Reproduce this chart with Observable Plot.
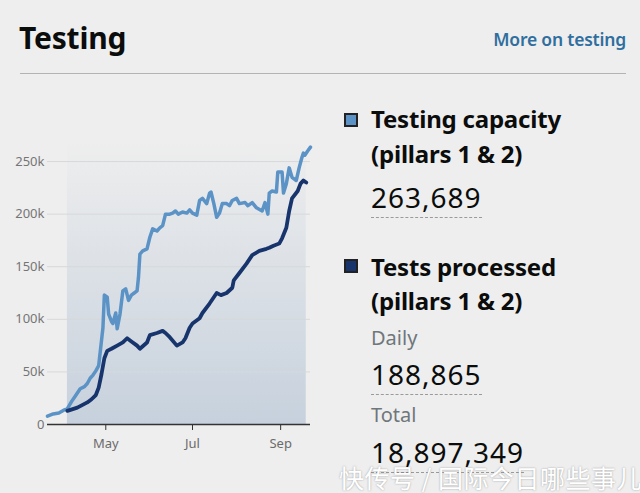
<!DOCTYPE html>
<html>
<head>
<meta charset="utf-8">
<script src="https://cdn.jsdelivr.net/npm/d3@7"></script>
<script src="https://cdn.jsdelivr.net/npm/@observablehq/plot@0.6"></script>
<style>
  html, body { margin: 0; padding: 0; }
  body { width: 640px; height: 493px; background: #eeeeee; position: relative; overflow: hidden; font-family: "Noto Sans", sans-serif; color: #0b0c0c; }
  .abs { position: absolute; white-space: nowrap; }
  #title { left: 19px; top: 17px; font-size: 30px; font-weight: 700; letter-spacing: -0.2px; }
  #more { right: 14px; top: 27px; font-size: 17.5px; font-weight: 600; color: #2f6e9e; letter-spacing: -0.2px; }
  #rule { left: 20px; top: 73px; width: 606px; height: 0; border-top: 1px solid #b3b3b3; }
  #chart { left: 0; top: 130px; }
  .swatch { width: 10px; height: 10px; border: 2px solid #222; }
  .head { font-size: 24px; font-weight: 700; letter-spacing: -0.2px; line-height: 1; }
  .num { font-size: 28px; font-weight: 400; line-height: 1; padding-bottom: 6px; border-bottom: 1.5px dashed #9a9a9a; letter-spacing: 1px; }
  .sub { font-size: 20px; color: #6f777b; line-height: 1; }
  #wm { left: 339px; top: 462px; line-height: 30px; font-family: "Noto Sans CJK SC", sans-serif; font-size: 25px; color: #ffffff; text-shadow: 0 0 2px rgba(0,0,0,0.35); letter-spacing: 0.5px; }
</style>
</head>
<body>
<div id="title" class="abs">Testing</div>
<div id="more" class="abs">More on testing</div>
<div id="rule" class="abs"></div>
<div id="chart" class="abs"></div>

<div class="abs swatch" id="sw1" style="left:344px;top:113px;"></div>
<div class="abs head" style="left:371px;top:107px;">Testing capacity</div>
<div class="abs head" style="left:371px;top:142px;">(pillars 1 &amp; 2)</div>
<div class="abs num" id="capNum" style="left:371px;top:183px;"></div>

<div class="abs swatch" id="sw2" style="left:344px;top:259px;"></div>
<div class="abs head" style="left:371px;top:255px;">Tests processed</div>
<div class="abs head" style="left:371px;top:289px;">(pillars 1 &amp; 2)</div>
<div class="abs sub" style="left:371px;top:328px;">Daily</div>
<div class="abs num" id="dailyNum" style="left:371px;top:360px;"></div>
<div class="abs sub" style="left:371px;top:405px;">Total</div>
<div class="abs num" id="totalNum" style="left:371px;top:438px;"></div>

<div id="wm" class="abs">快传号 / 国际今日哪些事儿</div>

<script>
// Testing capacity, pillars 1 & 2 (tests per day)
const capacityDates = [
  "2020-03-21","2020-03-25","2020-03-29","2020-04-02","2020-04-04","2020-04-07","2020-04-09",
  "2020-04-13","2020-04-16","2020-04-18","2020-04-20","2020-04-22","2020-04-24","2020-04-26",
  "2020-04-27","2020-04-28","2020-04-29","2020-04-30","2020-05-02","2020-05-03","2020-05-05",
  "2020-05-06","2020-05-08","2020-05-09","2020-05-11","2020-05-13","2020-05-15","2020-05-17",
  "2020-05-19","2020-05-21","2020-05-23","2020-05-24","2020-05-25","2020-05-27","2020-05-30",
  "2020-06-01","2020-06-03","2020-06-06","2020-06-08","2020-06-10","2020-06-12","2020-06-15",
  "2020-06-17","2020-06-19","2020-06-21","2020-06-24","2020-06-27","2020-06-29","2020-07-01",
  "2020-07-04","2020-07-06","2020-07-08","2020-07-11","2020-07-13","2020-07-14","2020-07-16",
  "2020-07-18","2020-07-20","2020-07-22","2020-07-25","2020-07-27","2020-07-29","2020-08-01",
  "2020-08-03","2020-08-07","2020-08-09","2020-08-12","2020-08-15","2020-08-19","2020-08-21",
  "2020-08-23","2020-08-24","2020-08-26","2020-08-29","2020-08-30","2020-09-02","2020-09-03",
  "2020-09-05","2020-09-07","2020-09-09","2020-09-12","2020-09-14","2020-09-16","2020-09-17",
  "2020-09-18","2020-09-20","2020-09-22"
];
const capacityValues = [
  8000,10000,11000,14000,15000,22000,26000,
  34000,36000,39000,44000,47000,51000,56000,
  68000,80000,92000,123000,121000,105000,98000,
  96000,106000,91000,105000,127000,129000,118000,
  123000,125000,127000,140000,162000,165000,167000,
  178000,186000,184000,187000,189000,200000,200000,
  201000,203000,200000,202000,201000,204000,201000,
  199000,213000,215000,210000,220000,221000,210000,
  197000,201000,210000,210000,208000,213000,215000,
  210000,211000,208000,211000,206000,203000,211000,
  200000,220000,222000,221000,240000,240000,220000,
  229000,244000,235000,232000,244000,254000,258000,
  256000,260000,263689
];

// Tests processed, pillars 1 & 2 (rolling daily figure)
const processedDates = [
  "2020-04-04","2020-04-11","2020-04-18","2020-04-21","2020-04-24","2020-04-26","2020-04-28",
  "2020-04-30","2020-05-02","2020-05-05","2020-05-09","2020-05-13","2020-05-16","2020-05-19",
  "2020-05-23","2020-05-25","2020-05-30","2020-06-01","2020-06-06","2020-06-10","2020-06-12",
  "2020-06-15","2020-06-20","2020-06-24","2020-06-26","2020-06-29","2020-07-01","2020-07-06",
  "2020-07-08","2020-07-13","2020-07-18","2020-07-21","2020-07-25","2020-07-29","2020-07-30",
  "2020-08-03","2020-08-08","2020-08-12","2020-08-17","2020-08-22","2020-08-24","2020-08-27",
  "2020-08-31","2020-09-02","2020-09-05","2020-09-07","2020-09-09","2020-09-13","2020-09-15",
  "2020-09-17","2020-09-19"
];
const processedValues = [
  13000,16000,21000,24000,28000,35000,48000,
  63000,70000,72000,75000,78000,82000,79000,
  75000,72000,78000,85000,87000,89000,87000,
  83000,75000,78000,82000,92000,96000,101000,
  106000,115000,125000,123000,125000,130000,137000,
  144000,153000,161000,165000,167000,168000,170000,
  172000,177000,187000,203000,215000,222000,229000,
  232000,230000
];

// Headline figures
const capacityLatest = 263689;
const processedDaily = 188865;
const processedTotal = 18897349;

// Axis ticks
const yTicks = [0, 50000, 100000, 150000, 200000, 250000];
const xTickDates = ["2020-05-01", "2020-07-01", "2020-09-01"];
const xDomain = ["2020-03-21", "2020-09-22"];
const yMax = 270000;

const capacityColor = "#5b93c6";
const processedColor = "#17346c";

const capacity = capacityDates.map((d, i) => ({date: new Date(d), value: capacityValues[i]}));
const processed = processedDates.map((d, i) => ({date: new Date(d), value: processedValues[i]}));
const span = [{start: processed[0].date, end: processed[processed.length - 1].date}];

const fmt = d3.format(",");
document.getElementById("capNum").textContent = fmt(capacityLatest);
document.getElementById("dailyNum").textContent = fmt(processedDaily);
document.getElementById("totalNum").textContent = fmt(processedTotal);
document.getElementById("sw1").style.background = capacityColor;
document.getElementById("sw2").style.background = processedColor;

const chart = Plot.plot({
  width: 330,
  height: 330,
  marginLeft: 47,
  marginRight: 20,
  marginTop: 10,
  marginBottom: 36,
  style: {background: "transparent", fontFamily: "Noto Sans, sans-serif", overflow: "visible"},
  x: {type: "utc", domain: xDomain.map(d => new Date(d))},
  y: {domain: [0, yMax]},
  marks: [
    Plot.rect(span, {x1: "start", x2: "end", y1: 0, y2: yMax, fill: "url(#shade)"}),
    Plot.gridY(yTicks.filter(d => d > 0), {stroke: "#d6d8da", strokeOpacity: 1, strokeWidth: 1}),
    Plot.axisY(yTicks, {
      tickSize: 0, tickPadding: 3, fontSize: 13, fill: "#757575", label: null,
      tickFormat: d => d === 0 ? "0" : d / 1000 + "k"
    }),
    Plot.axisX(xTickDates.map(d => new Date(d)), {
      tickSize: 6, tickPadding: 8, fontSize: 13, fill: "#6b6b6b", stroke: "#333", label: null,
      tickFormat: d3.utcFormat("%b")
    }),
    Plot.ruleY([0], {stroke: "#333", strokeWidth: 1.5}),
    Plot.line(capacity, {x: "date", y: "value", stroke: capacityColor, strokeWidth: 3.5, strokeLinejoin: "round"}),
    Plot.line(processed, {x: "date", y: "value", stroke: processedColor, strokeWidth: 3.8, strokeLinejoin: "round", strokeLinecap: "round"})
  ]
});

// vertical fade for the shaded band behind the lines
const ns = "http://www.w3.org/2000/svg";
const defs = document.createElementNS(ns, "defs");
defs.innerHTML = `<linearGradient id="shade" x1="0" y1="1" x2="0" y2="0">
  <stop offset="0" stop-color="#9fb4cc" stop-opacity="0.5"/>
  <stop offset="1" stop-color="#9fb4cc" stop-opacity="0"/>
</linearGradient>`;
chart.insertBefore(defs, chart.firstChild);
document.getElementById("chart").appendChild(chart);
</script>
</body>
</html>
